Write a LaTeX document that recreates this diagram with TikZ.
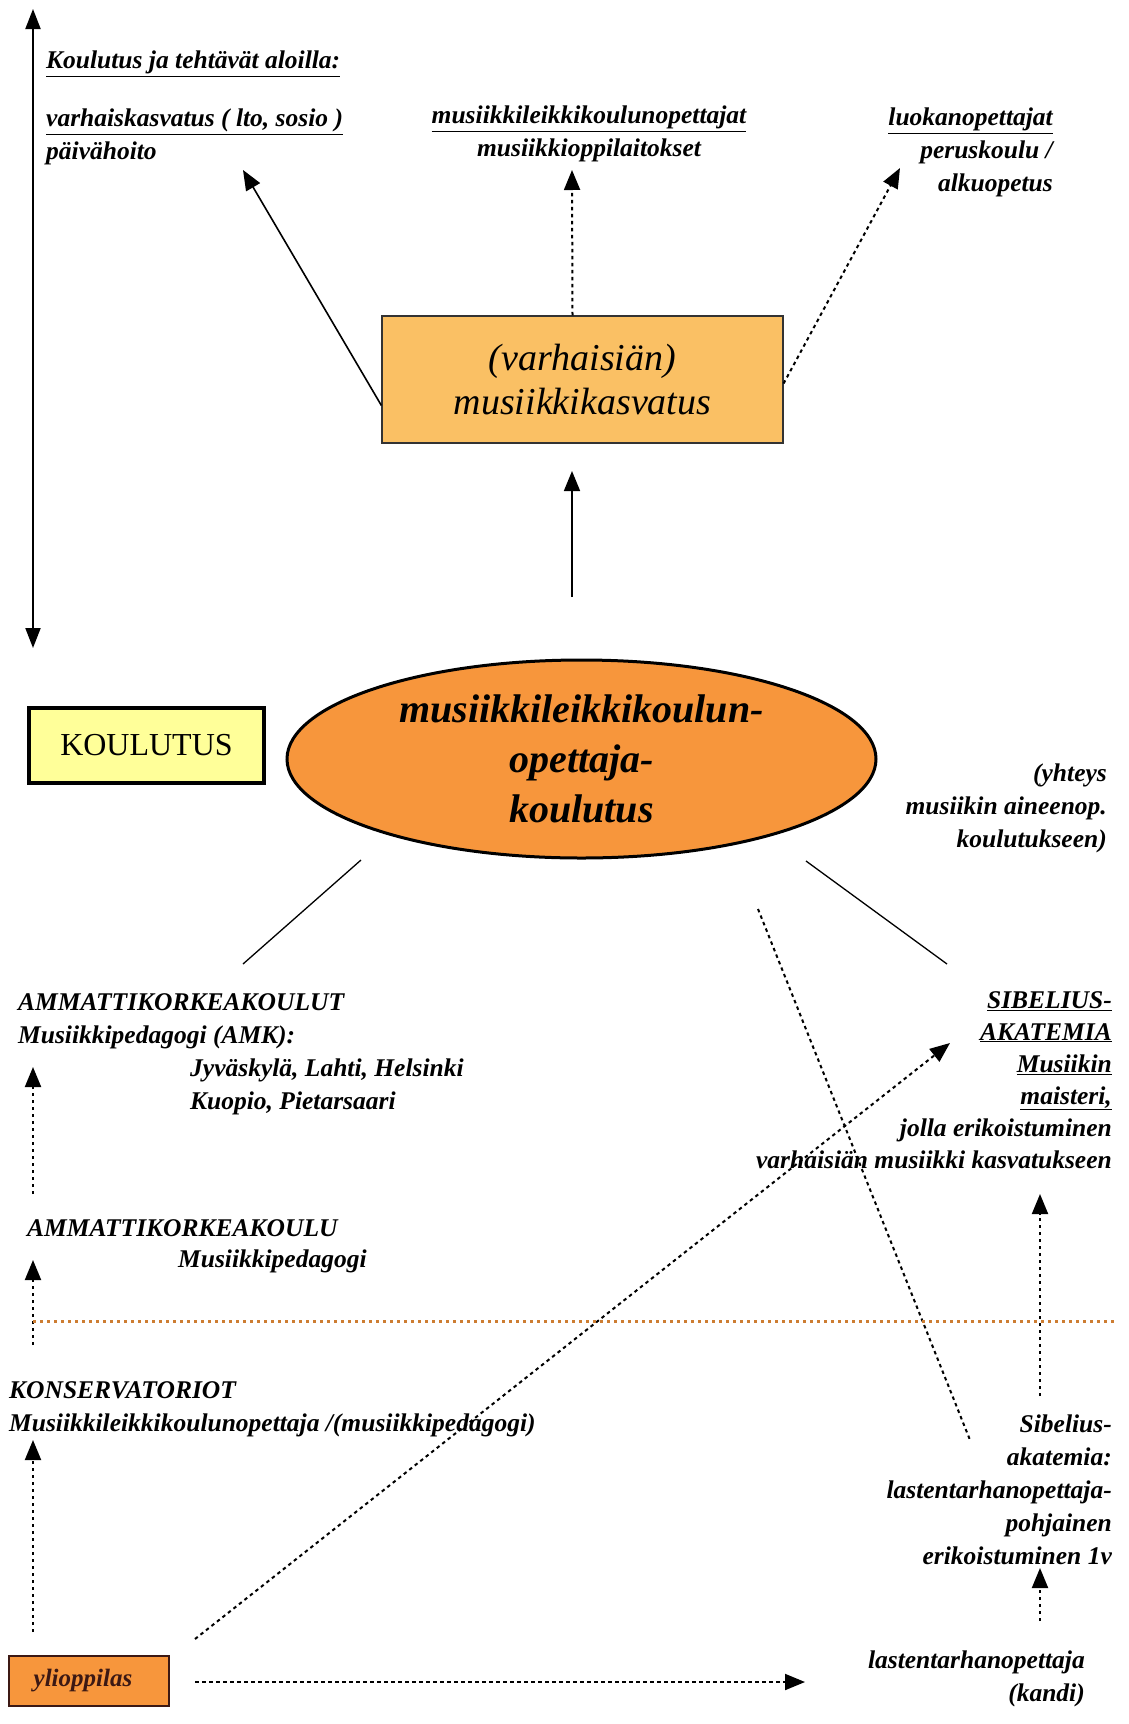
\documentclass[tikz,border=0pt]{standalone}
\usepackage{fontspec}
\setmainfont{Liberation Serif}
\usetikzlibrary{shapes.geometric,arrows.meta}
\definecolor{boxorange}{RGB}{250,192,100}
\definecolor{ellorange}{RGB}{247,150,60}
\definecolor{lightyel}{RGB}{255,255,153}
\definecolor{dotorange}{RGB}{205,125,50}
\definecolor{darkbrown}{RGB}{60,25,20}
\begin{document}
\begin{tikzpicture}[x=1pt,y=-1pt,
  txt/.style={inner sep=0pt, font=\fontsize{25.5}{33}\selectfont\bfseries\itshape},
  tip/.style={-{Triangle[length=20pt,width=16pt]}},
  solidarrow/.style={tip, line width=1.6pt},
  dotarrow/.style={tip, line width=2pt, dash pattern=on 3.5pt off 3.5pt},
  dotline/.style={line width=2pt, dash pattern=on 3.5pt off 3.5pt},
  thinline/.style={line width=1.3pt}]
\useasboundingbox (0,0) rectangle (1128,1724);

% ---- main shapes
\node[draw=black!80, line width=1.2pt, fill=boxorange, minimum width=401pt, minimum height=127pt,
      inner sep=0pt, align=center, font=\fontsize{38}{44}\selectfont\itshape]
  (mk) at (582.5,379.5) {(varhaisiän)\\musiikkikasvatus};
\node[ellipse, draw=black, line width=3pt, fill=ellorange, minimum width=589pt, minimum height=198pt,
      inner sep=0pt, align=center, font=\fontsize{40}{50}\selectfont\bfseries\itshape]
  (ell) at (581.5,759) {musiikkileikkikoulun-\\opettaja-\\koulutus};
\node[draw=black, line width=4pt, fill=lightyel, minimum width=235pt, minimum height=75pt,
      inner sep=0pt, font=\fontsize{32}{36}\selectfont]
  (koulutus) at (146.5,745.5) {KOULUTUS};
\node[draw=darkbrown, line width=2pt, fill=ellorange, minimum width=160pt, minimum height=50pt,
      inner sep=0pt, text=darkbrown, font=\fontsize{25}{30}\selectfont\bfseries\itshape]
  (yo) at (89,1681) {\hspace*{-12pt}ylioppilas};

% ---- texts
\node[txt, anchor=north west] (tt) at (46,51) {\underline{Koulutus ja tehtävät aloilla:}};
\node[txt, anchor=north west, align=left] (vk) at (46,109) {\underline{varhaiskasvatus ( lto, sosio )}\\päivähoito};
\node[txt, anchor=north, align=center] (mo) at (589,106) {\underline{musiikkileikkikoulunopettajat}\\musiikkioppilaitokset};
\node[txt, anchor=north east, align=right] (lo) at (1053,108) {\underline{luokanopettajat}\\peruskoulu /\\alkuopetus};
\node[txt, anchor=north east, align=right] (yh) at (1107,764) {(yhteys\\musiikin aineenop.\\koulutukseen)};

\node[txt, anchor=north west, align=left] (amk) at (18,993) {AMMATTIKORKEAKOULUT\\Musiikkipedagogi (AMK):};
\node[txt, anchor=north west, align=left] (amkp) at (190,1059) {Jyväskylä, Lahti, Helsinki\\Kuopio, Pietarsaari};
\node[txt, anchor=north west] (amk1) at (27,1219) {AMMATTIKORKEAKOULU};
\node[txt, anchor=north west] (amk1b) at (178,1250) {Musiikkipedagogi};
\node[txt, anchor=north west, align=left] (kons) at (9,1381) {KONSERVATORIOT\\Musiikkileikkikoulunopettaja /(musiikkipedagogi)};

\node[txt, anchor=north east, align=right, font=\fontsize{25.5}{32}\selectfont\bfseries\itshape] (siba) at (1112,991)
  {\underline{SIBELIUS-}\\\underline{AKATEMIA}\\\underline{Musiikin}\\\underline{maisteri,}\\jolla erikoistuminen\\varhaisiän musiikki kasvatukseen};
\node[txt, anchor=north east, align=right] (sibb) at (1112,1415)
  {Sibelius-\\akatemia:\\lastentarhanopettaja-\\pohjainen\\erikoistuminen 1v};
\node[txt, anchor=north east, align=right] (lto) at (1085,1651) {lastentarhanopettaja\\(kandi)};

% ---- free ends
\coordinate (t1) at (243,170);
\coordinate (t2) at (572,170);
\coordinate (t3) at (900,168);
\coordinate (a4s) at (572,597);
\coordinate (a4e) at (572,471);
\coordinate (dtop) at (33,9);
\coordinate (dbot) at (33,648);
\coordinate (l1s) at (361,860);
\coordinate (l1e) at (243,964);
\coordinate (l2s) at (806,861);
\coordinate (l2e) at (947,964);
\coordinate (l3s) at (758,909);
\coordinate (l3e) at (970,1440);
\coordinate (a5s) at (195,1639);
\coordinate (a5e) at (950,1043);
\coordinate (a6s) at (195,1682);
\coordinate (a6e) at (805,1682);
\coordinate (la1s) at (33,1194);
\coordinate (la1e) at (33,1067);
\coordinate (la2s) at (33,1345);
\coordinate (la2e) at (33,1260);
\coordinate (la3s) at (33,1632);
\coordinate (la3e) at (33,1440);
\coordinate (ra1s) at (1040,1396);
\coordinate (ra1e) at (1040,1194);
\coordinate (ra2s) at (1040,1621);
\coordinate (ra2e) at (1040,1568);
\coordinate (ors) at (33,1321);
\coordinate (ore) at (1117,1321);

% ---- connectors
\draw[solidarrow] ([yshift=-26pt]mk.west) -- (t1);
\draw[dotarrow] ([xshift=-10pt]mk.north) -- (t2);
\draw[dotarrow] ([yshift=-4pt]mk.east) -- (t3);
\draw[solidarrow] (a4s) -- (a4e);
\draw[line width=2pt, {Triangle[length=20pt,width=15pt]}-{Triangle[length=20pt,width=15pt]}] (dtop) -- (dbot);
\draw[thinline] (l1s) -- (l1e);
\draw[thinline] (l2s) -- (l2e);
\draw[dotline] (l3s) -- (l3e);
\draw[dotarrow] (a5s) -- (a5e);
\draw[dotarrow] (a6s) -- (a6e);
\draw[dotarrow] (la1s) -- (la1e);
\draw[dotarrow] (la2s) -- (la2e);
\draw[dotarrow] (la3s) -- (la3e);
\draw[dotarrow] (ra1s) -- (ra1e);
\draw[dotarrow] (ra2s) -- (ra2e);
\draw[dotorange, line width=3pt, dash pattern=on 3pt off 4pt] (ors) -- (ore);
\end{tikzpicture}
\end{document}
